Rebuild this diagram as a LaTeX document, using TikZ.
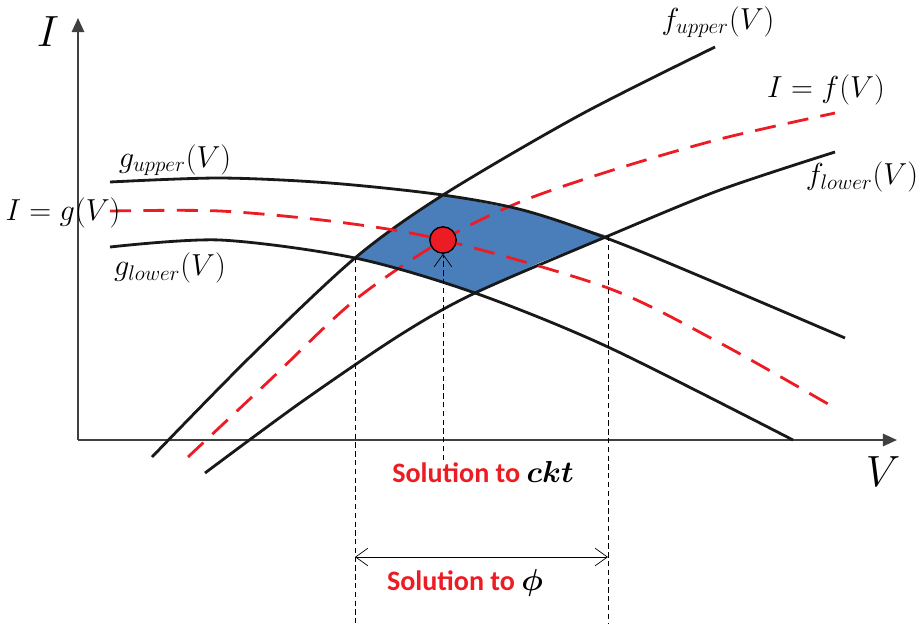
\documentclass[tikz,border=0pt]{standalone}
\usepackage{fontspec}
\usepackage{amsmath}
\usepackage{bm}
\setsansfont{Carlito}
\usetikzlibrary{arrows.meta,positioning}
\definecolor{solred}{HTML}{ED1C24}
\definecolor{regionblue}{HTML}{4A7EBB}
\definecolor{axisgray}{HTML}{404040}

\begin{document}
\begin{tikzpicture}[
  x=0.02cm, y=-0.02cm,
  axis/.style={line width=1.2pt, axisgray, -{Triangle[length=8pt,width=7pt]}},
  bound/.style={line width=1.6pt, black!90},
  nominal/.style={line width=1.6pt, solred, dash pattern=on 12pt off 7pt},
  guide/.style={black, thin, dash pattern=on 3pt off 2pt},
  barb/.style={black, thin, {Straight Barb[length=7pt,width=10pt]}-{Straight Barb[length=7pt,width=10pt]}},
  lbl/.style={font=\fontsize{18}{20}\selectfont, inner sep=1pt},
  axlbl/.style={font=\fontsize{28}{30}\selectfont, inner sep=1pt},
  soltext/.style={text=solred, font=\sffamily\bfseries\fontsize{16}{18}\selectfont, inner sep=1pt}
]
\useasboundingbox (0,0) rectangle (919,623);

% corners of the solution region
\coordinate (pL) at (355,258);
\coordinate (pT) at (443,195);
\coordinate (pR) at (608,236);
\coordinate (pB) at (475,293);
\coordinate (O) at (78,440);
\coordinate (Iend) at (78,18);
\coordinate (Vend) at (897,440);

\fill[regionblue] (pL) -- (398,225) -- (pT) -- (530,212) -- (pR) -- (541,262)
  -- (pB) -- (415,273) -- cycle;

\draw[axis] (O) -- (Iend);
\draw[axis] (O) -- (Vend);

% f bounds and nominal f
\draw[bound] plot[smooth, tension=0.5] coordinates {(152,457) (250,357) (355,258) (443,195) (580,115) (715,47)};
\draw[nominal] plot[smooth, tension=0.5] coordinates {(188,457) (270,380) (355,300) (443,240) (520,202) (613,170) (720,139) (835,113)};
\draw[bound] plot[smooth, tension=0.5] coordinates {(205,473) (300,403) (400,335) (475,293) (608,236) (720,190) (835,152)};

% g bounds and nominal g
\draw[bound] plot[smooth, tension=0.5] coordinates {(110,182) (220,178) (330,183) (443,195) (530,212) (637,250) (845,338)};
\draw[nominal] plot[smooth, tension=0.5] coordinates {(110,211) (220,211) (338,222) (443,240) (608,288) (720,343) (835,408)};
\draw[bound] plot[smooth, tension=0.5] coordinates {(110,247) (220,240) (355,258) (475,293) (608,347) (793,440)};

\node[circle, draw=black, fill=solred, line width=0.8pt, minimum size=15pt, inner sep=0pt] (sol) at (443,240) {};

\coordinate (pLb) at (355,623);
\coordinate (pRb) at (608,623);
\coordinate (solb) at (443,460);
\coordinate (phiL) at (355,557);
\coordinate (phiR) at (608,557);

\draw[guide] (pL) -- (pLb);
\draw[guide] (pR) -- (pRb);
\draw[guide, -{Straight Barb[length=7pt,width=10pt]}] (solb) -- (sol.south);
\draw[barb] (phiL) -- (phiR);

\node[axlbl] (Ilbl) at (48,32) {$I$};
\node[axlbl] (Vlbl) at (883,472) {$V$};
\node[lbl] (fuLbl) at (718,22) {$f_{upper}(V)$};
\node[lbl] (fLbl) at (826,90) {$I = f(V)$};
\node[lbl] (flLbl) at (862,177) {$f_{lower}(V)$};
\node[lbl] (guLbl) at (175,160) {$g_{upper}(V)$};
\node[lbl] (gLbl) at (63,213) {$I = g(V)$};
\node[lbl] (glLbl) at (170,268) {$g_{lower}(V)$};

\node[soltext] (cktLbl) at (483,472) {Solution to \textcolor{black}{$\bm{ckt}$}};
\node[soltext] (phiLbl) at (465,583) {Solution to \textcolor{black}{$\bm{\phi}$}};
\end{tikzpicture}
\end{document}
